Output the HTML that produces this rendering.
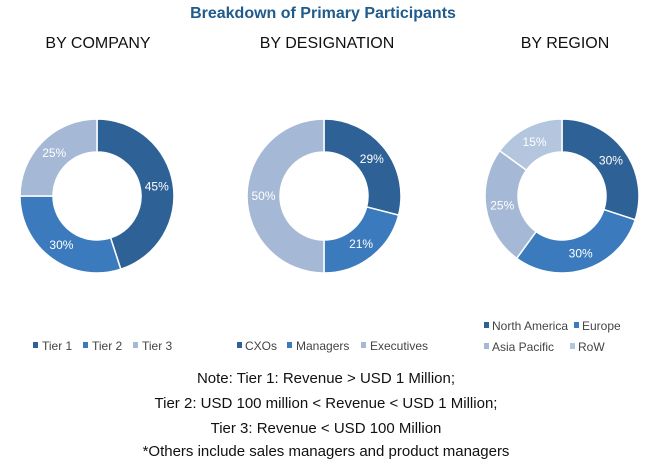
<!DOCTYPE html>
<html><head><meta charset="utf-8"><style>
body{margin:0;background:#fff;}
svg text{font-family:"Liberation Sans",sans-serif;}
</style></head><body>
<svg id="c" width="646" height="463" viewBox="0 0 646 463" xmlns="http://www.w3.org/2000/svg">
<text x="323" y="18" text-anchor="middle" font-size="16" font-weight="bold" fill="#1f5b8c">Breakdown of Primary Participants</text>
<text x="98" y="48" text-anchor="middle" font-size="16" fill="#111">BY COMPANY</text>
<text x="327" y="48" text-anchor="middle" font-size="16" fill="#111">BY DESIGNATION</text>
<text x="565" y="48" text-anchor="middle" font-size="16" fill="#111">BY REGION</text>
<g id="donuts"></g>
<g font-size="12" fill="#444">
<rect x="33" y="342" width="5" height="6" fill="#2e6196"/><text x="42" y="350">Tier 1</text>
<rect x="83" y="342" width="5" height="6" fill="#3a7abd"/><text x="92" y="350">Tier 2</text>
<rect x="133" y="342" width="5" height="6" fill="#a5b9d6"/><text x="142" y="350">Tier 3</text>
<rect x="237" y="342" width="5" height="6" fill="#2e6196"/><text x="245" y="350">CXOs</text>
<rect x="287" y="342" width="5" height="6" fill="#3a7abd"/><text x="296" y="350">Managers</text>
<rect x="361" y="342" width="5" height="6" fill="#a5b9d6"/><text x="370" y="350">Executives</text>
<rect x="484" y="322" width="5" height="6" fill="#2e6196"/><text x="492" y="330">North America</text>
<rect x="574" y="322" width="5" height="6" fill="#3a7abd"/><text x="582" y="330">Europe</text>
<rect x="484" y="343" width="5" height="6" fill="#a5b9d6"/><text x="492" y="351">Asia Pacific</text>
<rect x="570" y="343" width="5" height="6" fill="#b4c5de"/><text x="578" y="351">RoW</text>
</g>
<g font-size="15" fill="#111" text-anchor="middle">
<text x="326" y="383">Note: Tier 1: Revenue &gt; USD 1 Million;</text>
<text x="326" y="408">Tier 2: USD 100 million &lt; Revenue &lt; USD 1 Million;</text>
<text x="326" y="433">Tier 3: Revenue &lt; USD 100 Million</text>
<text x="326" y="456">*Others include sales managers and product managers</text>
</g>
</svg>
<script>
const companyLabels=["Tier 1","Tier 2","Tier 3"];
const companyValues=[45,30,25];
const designationLabels=["CXOs","Managers","Executives"];
const designationValues=[29,21,50];
const regionLabels=["North America","Europe","Asia Pacific","RoW"];
const regionValues=[30,30,25,15];
const colors=["#2e6196","#3a7abd","#a5b9d6","#b4c5de"];
const NS="http://www.w3.org/2000/svg";
const g=document.getElementById('donuts');
function donut(cx,cy,labels,values,name){
  const R=77,r=44,total=values.reduce((a,b)=>a+b,0);
  let a0=0;
  values.forEach((v,i)=>{
    const a1=a0+v/total*2*Math.PI;
    const p=(a,rad)=>[cx+rad*Math.sin(a),cy-rad*Math.cos(a)];
    const [x1,y1]=p(a0,R),[x2,y2]=p(a1,R),[x3,y3]=p(a1,r),[x4,y4]=p(a0,r);
    const lg=(a1-a0)>Math.PI?1:0;
    const path=document.createElementNS(NS,'path');
    path.setAttribute('d',`M${x1},${y1}A${R},${R} 0 ${lg} 1 ${x2},${y2}L${x3},${y3}A${r},${r} 0 ${lg} 0 ${x4},${y4}Z`);
    path.setAttribute('fill',colors[i]);
    path.setAttribute('stroke','#fff');
    path.setAttribute('stroke-width','1.5');
    
    
    g.appendChild(path);
    const am=(a0+a1)/2,[tx,ty]=p(am,(R+r)/2);
    const t=document.createElementNS(NS,'text');
    t.setAttribute('x',tx);t.setAttribute('y',ty+4);
    t.setAttribute('text-anchor','middle');t.setAttribute('font-size','12');t.setAttribute('fill','#fff');
    t.textContent=v+'%';
    
    
    g.appendChild(t);
    a0=a1;
  });
}
donut(97,196,companyLabels,companyValues,'company');
donut(324,196,designationLabels,designationValues,'designation');
donut(562,196,regionLabels,regionValues,'region');
</script>
</body></html>
